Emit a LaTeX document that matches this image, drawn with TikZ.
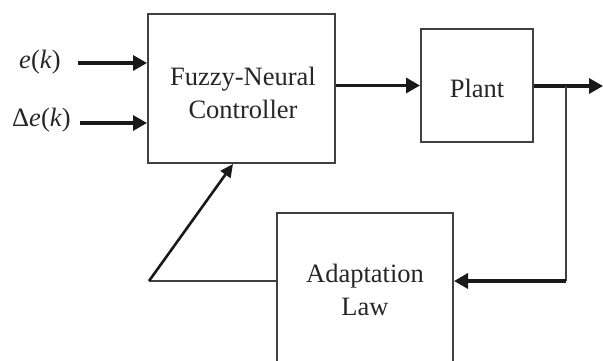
\documentclass[tikz,border=0pt]{standalone}
\usepackage{fontspec}
\setmainfont{Liberation Serif}
\usetikzlibrary{arrows.meta}
\begin{document}
\begin{tikzpicture}[x=1pt,y=-1pt,
  box/.style={draw=black!75, line width=2pt, inner sep=0pt},
  lbl/.style={font=\fontsize{26.5}{33}\selectfont, text=black!85, inner sep=0pt, align=center},
  arr/.style={-{Triangle[length=14pt,width=15pt]}, line width=3.3pt, black!90},
  thin/.style={line width=2pt, black!75},
  thinarr/.style={-{Triangle[length=13pt,width=12pt]}, line width=2.6pt, black!90}]
\useasboundingbox (0,0) rectangle (603,361);
% boxes
\node[box, minimum width=187pt, minimum height=149pt] (fnc) at (241.5,88.5) {};
\node[box, minimum width=112pt, minimum height=113pt] (plant) at (477,85.5) {};
\node[box, minimum width=176pt, minimum height=170pt] (adapt) at (365,298) {};
% texts
\node[lbl] (fnct) at (243,93) {Fuzzy-Neural\\Controller};
\node[lbl] (plantt) at (477,88) {Plant};
\node[lbl] (adaptt) at (365,290) {Adaptation\\Law};
\node[lbl, anchor=east] (ek) at (61,62) {\textit{e}(\textit{k})};
\node[lbl, anchor=east] (dek) at (71,120) {Δ\textit{e}(\textit{k})};
% coordinates
\coordinate (in1) at (78,63);
\coordinate (in2) at (80,123);
\coordinate (out) at (603,86);
\coordinate (br) at (566,86);
\coordinate (fb) at (566,281);
\coordinate (kn) at (149,281);
\coordinate (up) at (233,164);
% connectors
\draw[arr] (in1) -- (fnc.west |- in1);
\draw[arr] (in2) -- (fnc.west |- in2);
\draw[arr] (fnc.east |- plant.west) -- (plant.west);
\draw[arr] (plant.east |- out) -- (out);
\draw[thin] (br) -- (fb);
\draw[arr] (fb) -- (adapt.east |- fb);
\draw[thin] (adapt.west |- kn) -- (kn);
\draw[thinarr] (kn) -- (up);
\end{tikzpicture}
\end{document}
